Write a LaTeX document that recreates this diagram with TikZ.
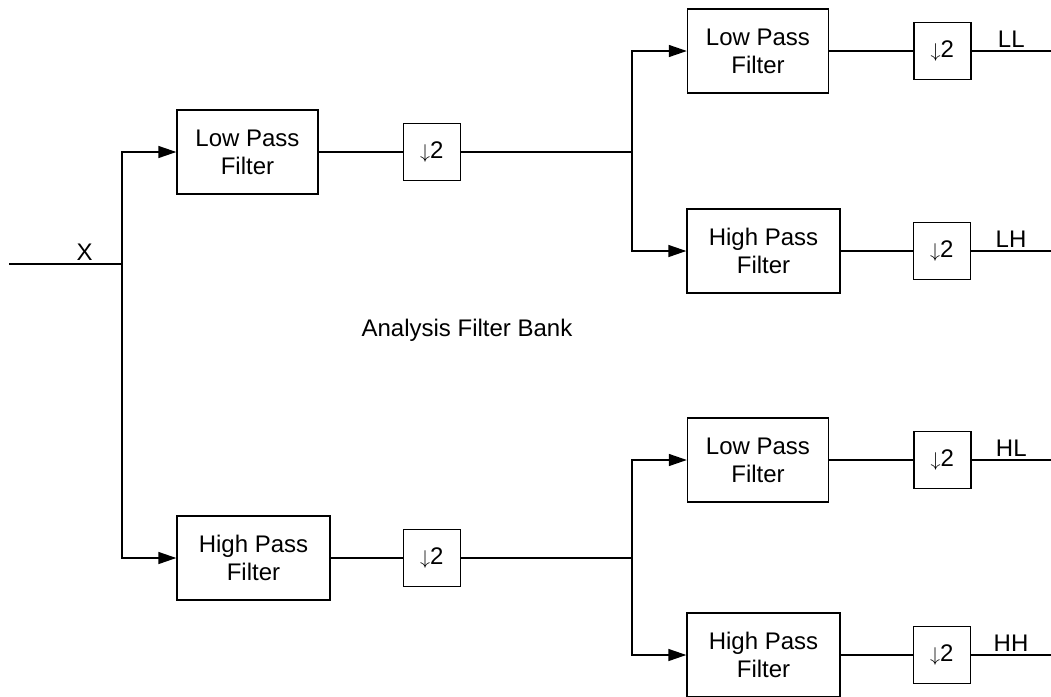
\documentclass[tikz,border=0pt]{standalone}
\usepackage{fontspec}
\setmainfont{Liberation Sans}
\usetikzlibrary{positioning}
\usetikzlibrary{arrows.meta}

\newcommand{\downtwo}{{\fontsize{10}{12}\selectfont$\downarrow$}2}

\tikzset{
  filt/.style={draw, line width=0.7pt, align=center, minimum height=42pt, inner sep=0pt},
  lowf/.style={filt, minimum width=70.5pt},
  highf/.style={filt, minimum width=76.5pt},
  down/.style={draw, line width=0.7pt, minimum width=28.5pt, minimum height=28.5pt, inner sep=0pt},
  sig/.style={line width=0.7pt},
  feed/.style={sig, -{Triangle[length=9pt,width=6pt]}},
  lbl/.style={above, inner sep=1.5pt}
}

\begin{document}
\begin{tikzpicture}[x=0.5pt, y=-0.5pt, font=\fontsize{12}{14}\selectfont]
  \useasboundingbox (0,0) rectangle (1051,697);
  % first level
  \node(lpf) [lowf] at (247.5,152) {Low Pass\\Filter};
  \node(hpf) [highf] at (253.5,558) {High Pass\\Filter};
  \node(dsl) [down, right=42pt of lpf] {\downtwo};
  \node(dsh) [down, right=36pt of hpf] {\downtwo};
  % second level
  \node(lpfll) [lowf] at (758,51) {Low Pass\\Filter};
  \node(hpflh) [highf] at (763.5,251) {High Pass\\Filter};
  \node(lpfhl) [lowf] at (758,460) {Low Pass\\Filter};
  \node(hpfhh) [highf] at (763.5,655) {High Pass\\Filter};
  \node(dsll) [down, right=42pt of lpfll] {\downtwo};
  \node(dslh) [down, right=36pt of hpflh] {\downtwo};
  \node(dshl) [down, right=42pt of lpfhl] {\downtwo};
  \node(dshh) [down, right=36pt of hpfhh] {\downtwo};
  \node(title) at (467,330) {Analysis Filter Bank};
  % junctions and free ends
  \coordinate(xin) at (9,264);
  \coordinate(split) at (122,264);
  \coordinate(jl) at (632,152);
  \coordinate(jh) at (632,558);
  \coordinate(oll) at (1051,51);
  \coordinate(olh) at (1051,251);
  \coordinate(ohl) at (1051,460);
  \coordinate(ohh) at (1051,655);
  % input
  \draw[sig] (xin) -- node[lbl, pos=0.67] {X} (split);
  \draw[feed] (split) |- (lpf);
  \draw[feed] (split) |- (hpf);
  \draw[sig] (lpf) -- (dsl);
  \draw[sig] (hpf) -- (dsh);
  \draw[sig] (dsl) -- (jl);
  \draw[sig] (dsh) -- (jh);
  \draw[feed] (jl) |- (lpfll);
  \draw[feed] (jl) |- (hpflh);
  \draw[feed] (jh) |- (lpfhl);
  \draw[feed] (jh) |- (hpfhh);
  \draw[sig] (lpfll) -- (dsll);
  \draw[sig] (hpflh) -- (dslh);
  \draw[sig] (lpfhl) -- (dshl);
  \draw[sig] (hpfhh) -- (dshh);
  % outputs
  \draw[sig] (dsll) -- node[lbl] {LL} (oll);
  \draw[sig] (dslh) -- node[lbl] {LH} (olh);
  \draw[sig] (dshl) -- node[lbl] {HL} (ohl);
  \draw[sig] (dshh) -- node[lbl] {HH} (ohh);
\end{tikzpicture}
\end{document}
